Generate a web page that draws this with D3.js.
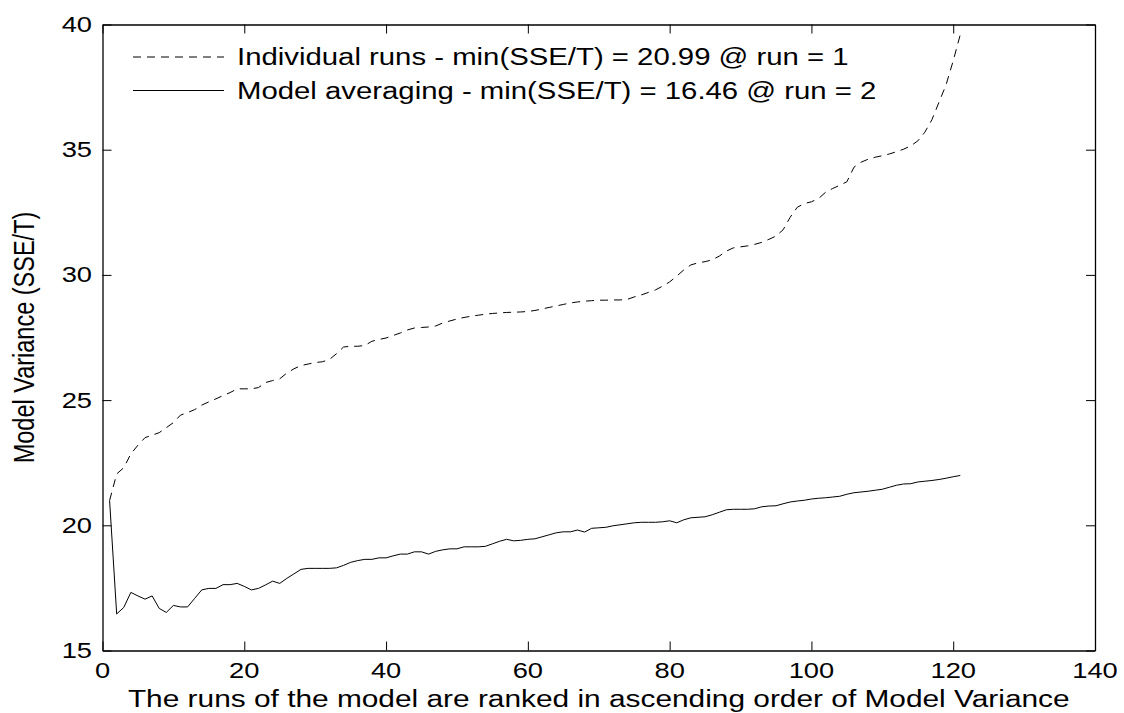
<!DOCTYPE html>
<html>
<head>
<meta charset="utf-8">
<script src="https://cdn.jsdelivr.net/npm/d3@7"></script>
<style>
  html, body { margin: 0; padding: 0; background: #fff; }
  svg { display: block; }
  text { font-family: "Liberation Sans", Arial, sans-serif; fill: #000; }
</style>
</head>
<body>
<svg id="chart" width="1124" height="713"></svg>
<script>
// Runs ranked in ascending order of model variance
const runs = d3.range(1, 122);

// SSE/T of each individual run (sorted)
const individualRuns = [
  20.99, 22.05, 22.30, 22.85, 23.20, 23.50, 23.60, 23.70, 23.90, 24.10,
  24.40, 24.50, 24.62, 24.80, 24.93, 25.05, 25.18, 25.30, 25.45, 25.45,
  25.45, 25.50, 25.70, 25.78, 25.85, 26.08, 26.25, 26.38, 26.44, 26.50,
  26.53, 26.62, 26.85, 27.12, 27.15, 27.15, 27.18, 27.35, 27.42, 27.48,
  27.58, 27.68, 27.80, 27.88, 27.90, 27.92, 27.96, 28.08, 28.16, 28.24,
  28.30, 28.35, 28.39, 28.43, 28.46, 28.48, 28.50, 28.51, 28.52, 28.54,
  28.58, 28.64, 28.70, 28.76, 28.82, 28.88, 28.92, 28.95, 28.97, 28.99,
  28.99, 29.00, 29.00, 29.02, 29.12, 29.20, 29.30, 29.40, 29.55, 29.72,
  29.95, 30.20, 30.40, 30.48, 30.53, 30.60, 30.75, 30.95, 31.08, 31.12,
  31.16, 31.22, 31.30, 31.42, 31.55, 31.80, 32.30, 32.70, 32.85, 32.92,
  33.05, 33.30, 33.45, 33.58, 33.72, 34.30, 34.50, 34.62, 34.70, 34.76,
  34.83, 34.92, 35.02, 35.15, 35.35, 35.70, 36.20, 36.90, 37.60, 38.55,
  39.60
];

// SSE/T of the averaged model using the first n ranked runs
const modelAveraging = [
  20.99, 16.46, 16.72, 17.32, 17.18, 17.05, 17.18, 16.68, 16.52, 16.80,
  16.74, 16.74, 17.08, 17.42, 17.48, 17.48, 17.63, 17.63, 17.68, 17.56,
  17.42, 17.48, 17.62, 17.77, 17.68, 17.88, 18.06, 18.24, 18.28, 18.28,
  18.28, 18.28, 18.30, 18.40, 18.52, 18.59, 18.64, 18.64, 18.70, 18.70,
  18.78, 18.85, 18.85, 18.94, 18.94, 18.85, 18.96, 19.02, 19.06, 19.06,
  19.14, 19.14, 19.14, 19.16, 19.26, 19.36, 19.44, 19.38, 19.40, 19.44,
  19.46, 19.54, 19.62, 19.70, 19.74, 19.74, 19.81, 19.73, 19.88, 19.90,
  19.92, 19.98, 20.02, 20.06, 20.10, 20.12, 20.12, 20.12, 20.14, 20.18,
  20.10, 20.22, 20.30, 20.32, 20.34, 20.42, 20.52, 20.62, 20.64, 20.64,
  20.64, 20.66, 20.74, 20.77, 20.78, 20.86, 20.93, 20.97, 21.00, 21.05,
  21.08, 21.10, 21.13, 21.16, 21.24, 21.30, 21.33, 21.36, 21.40, 21.44,
  21.52, 21.60, 21.65, 21.66, 21.73, 21.76, 21.79, 21.83, 21.88, 21.94,
  21.99
];

const xTicks = [0, 20, 40, 60, 80, 100, 120, 140];
const yTicks = [15, 20, 25, 30, 35, 40];
const legendLabels = [
  "Individual runs - min(SSE/T) = 20.99 @ run = 1",
  "Model averaging - min(SSE/T) = 16.46 @ run = 2"
];
const xTitle = "The runs of the model are ranked in ascending order of Model Variance";
const yTitle = "Model Variance (SSE/T)";

const box = { left: 102.5, right: 1095, top: 24.5, bottom: 650.5 };
const svg = d3.select("#chart");

const x = d3.scaleLinear().domain([0, 140]).range([box.left, box.right]);
const y = d3.scaleLinear().domain([15, 40]).range([box.bottom, box.top]);

const tickLen = 9;
const stretchX = 1.27;   // glyphs are drawn wider than tall
const tickFont = 21.5;
const legendFont = 23.1;
const titleFont = 23.5;

// Clip the curves to the plot box
svg.append("clipPath").attr("id", "plot-clip")
  .append("rect")
  .attr("x", box.left).attr("y", box.top)
  .attr("width", box.right - box.left)
  .attr("height", box.bottom - box.top);

// Axes: ticks pointing inward, on all four sides; labels drawn separately
const bottomAxis = d3.axisBottom(x).tickValues(xTicks).tickSizeInner(-tickLen).tickSizeOuter(0).tickFormat("");
const topAxis = d3.axisTop(x).tickValues(xTicks).tickSizeInner(-tickLen).tickSizeOuter(0).tickFormat("");
const leftAxis = d3.axisLeft(y).tickValues(yTicks).tickSizeInner(-tickLen).tickSizeOuter(0).tickFormat("");
const rightAxis = d3.axisRight(y).tickValues(yTicks).tickSizeInner(-tickLen).tickSizeOuter(0).tickFormat("");

function styleAxis(g) {
  g.select(".domain").attr("stroke", "#000").attr("stroke-width", 1.3);
  g.selectAll(".tick line").attr("stroke", "#000").attr("stroke-width", 1);
}

svg.append("g").attr("transform", `translate(0,${box.bottom})`).call(bottomAxis).call(styleAxis);
svg.append("g").attr("transform", `translate(0,${box.top})`).call(topAxis).call(styleAxis);
svg.append("g").attr("transform", `translate(${box.left},0)`).call(leftAxis).call(styleAxis);
svg.append("g").attr("transform", `translate(${box.right},0)`).call(rightAxis).call(styleAxis);

// Tick labels
svg.append("g").selectAll("text")
  .data(xTicks)
  .join("text")
  .attr("transform", d => `translate(${x(d)},678) scale(${stretchX},1)`)
  .attr("text-anchor", "middle")
  .attr("font-size", tickFont)
  .text(d => d);

svg.append("g").selectAll("text")
  .data(yTicks)
  .join("text")
  .attr("transform", d => `translate(92,${y(d)}) scale(${stretchX},1)`)
  .attr("text-anchor", "end")
  .attr("dy", "0.35em")
  .attr("font-size", tickFont)
  .text(d => d);

// Curves
const line = d3.line()
  .x((d, i) => x(runs[i]))
  .y(d => y(d));

const plot = svg.append("g").attr("clip-path", "url(#plot-clip)");

plot.append("path")
  .datum(individualRuns)
  .attr("d", line)
  .attr("fill", "none")
  .attr("stroke", "#000")
  .attr("stroke-width", 1)
  .attr("stroke-dasharray", "8,6");

plot.append("path")
  .datum(modelAveraging)
  .attr("d", line)
  .attr("fill", "none")
  .attr("stroke", "#000")
  .attr("stroke-width", 1);

// Legend
const legendStyles = ["8,6", null];
const legend = svg.append("g");
legendLabels.forEach((label, i) => {
  const ly = 57 + i * 33.5;
  legend.append("line")
    .attr("x1", 133).attr("x2", 224)
    .attr("y1", ly).attr("y2", ly)
    .attr("stroke", "#000").attr("stroke-width", 1)
    .attr("stroke-dasharray", legendStyles[i]);
  legend.append("text")
    .attr("transform", `translate(237,${ly}) scale(${stretchX},1)`)
    .attr("dy", "0.35em")
    .attr("font-size", legendFont)
    .text(label);
});

// Axis titles
svg.append("text")
  .attr("transform", `translate(${(box.left + box.right) / 2},707) scale(${stretchX},1)`)
  .attr("text-anchor", "middle")
  .attr("font-size", titleFont)
  .text(xTitle);

svg.append("text")
  .attr("transform", `translate(34,${(box.top + box.bottom) / 2}) scale(${stretchX},1) rotate(-90)`)
  .attr("text-anchor", "middle")
  .attr("font-size", titleFont)
  .text(yTitle);
</script>
</body>
</html>
